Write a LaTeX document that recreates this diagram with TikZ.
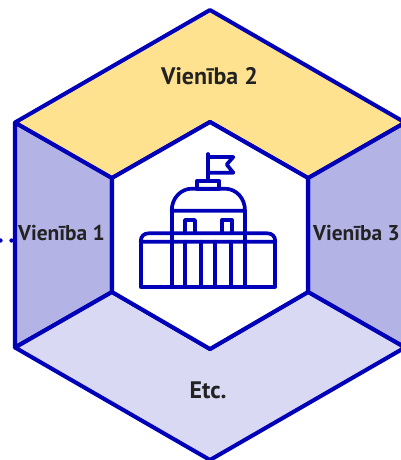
\documentclass[tikz,border=0pt]{standalone}
\usepackage{fontspec}
\setmainfont{PT Sans}
\usetikzlibrary{positioning}
\definecolor{hexblue}{HTML}{0000B8}
\definecolor{hexyellow}{HTML}{FFE28F}
\definecolor{hexviolet}{HTML}{B3B3E6}
\definecolor{hexlavender}{HTML}{D9D9F4}
\definecolor{hextext}{HTML}{222222}

\begin{document}
\begin{tikzpicture}[x=0.02cm, y=-0.02cm]
    \tikzstyle{face} = [draw=hexblue, line width=2.3pt, line join=round];
    \tikzstyle{icon} = [draw=hexblue, line width=2.1pt, line join=round, line cap=round];
    \tikzstyle{unit} = [text=hextext, font=\bfseries\fontsize{12.2}{14}\selectfont, inner sep=0pt];
    \tikzstyle{bigunit} = [text=hextext, font=\bfseries\fontsize{13.6}{16}\selectfont, inner sep=0pt];

    \useasboundingbox (0, 0) rectangle (400, 460);

    % outer corners
    \coordinate (T) at (210, 10);
    \coordinate (TL) at (15, 122.5);
    \coordinate (TR) at (405, 122.5);
    \coordinate (BL) at (15, 347.5);
    \coordinate (BR) at (405, 347.5);
    \coordinate (B) at (210, 460);

    % inner corners
    \coordinate (t) at (210, 122);
    \coordinate (tl) at (112, 178);
    \coordinate (tr) at (308, 178);
    \coordinate (bl) at (112, 292);
    \coordinate (br) at (308, 292);
    \coordinate (b) at (210, 349);

    \draw[face, fill=hexviolet] (TL) -- (tl) -- (bl) -- (BL) -- cycle;
    \draw[face, fill=hexviolet] (TR) -- (tr) -- (br) -- (BR) -- cycle;
    \draw[face, fill=hexlavender] (BL) -- (bl) -- (b) -- (br) -- (BR) -- (B) -- cycle;
    \draw[face, fill=hexyellow] (TL) -- (T) -- (TR) -- (tr) -- (t) -- (tl) -- cycle;
    \draw[face, fill=white] (t) -- (tr) -- (br) -- (b) -- (bl) -- (tl) -- cycle;

    \node[bigunit] at (209.5, 76) (top) {Vienība 2};
    \node[unit] at (61.5, 233) (left) {Vienība 1};
    \node[unit] at (356.5, 233) (right) {Vienība 3};
    \node[bigunit] at (208, 390) (bottom) {Etc.};

    % dots left of the hexagon
    \coordinate (dotA) at (0.5, 240.5);
    \coordinate (dotB) at (11.5, 240.5);
    \fill[hexblue] (dotA) circle (2.2);
    \fill[hexblue] (dotB) circle (2.2);

    % flag
    \draw[icon] (208, 154) -- (208, 181);
    \draw[icon] (208, 157) -- (233.3, 157) -- (226.7, 164.5) -- (233.3, 172.7) -- (208, 172.7);

    % dome
    \draw[icon] (197.3, 188.7) rectangle (219.3, 180.7);
    \draw[icon] (171.7, 210.7) .. controls (171.7, 198) and (181, 188.7) .. (191.7, 188.7)
        -- (225, 188.7) .. controls (236, 188.7) and (245, 198) .. (245, 210.7) -- cycle;
    \draw[icon] (185, 233.3) -- (185, 220) -- (195, 220) -- (195, 233.3);
    \draw[icon] (221.7, 233.3) -- (221.7, 220) -- (231.7, 220) -- (231.7, 233.3);

    % building
    \draw[icon] (140.7, 241.7) .. controls (140.7, 236) and (144, 233.3) .. (149, 233.3)
        -- (267, 233.3) .. controls (272, 233.3) and (275.3, 236) .. (275.3, 241.7) -- cycle;
    \draw[icon] (140.7, 241.7) -- (140.7, 286.7) -- (275.3, 286.7) -- (275.3, 241.7);
    \foreach \x in {185, 201, 215, 231} {
        \draw[icon] (\x, 241.7) -- (\x, 286.7);
    }
    \draw[icon] (171.7, 210.7) -- (171.7, 286.7);
    \draw[icon] (245, 210.7) -- (245, 286.7);
\end{tikzpicture}
\end{document}
